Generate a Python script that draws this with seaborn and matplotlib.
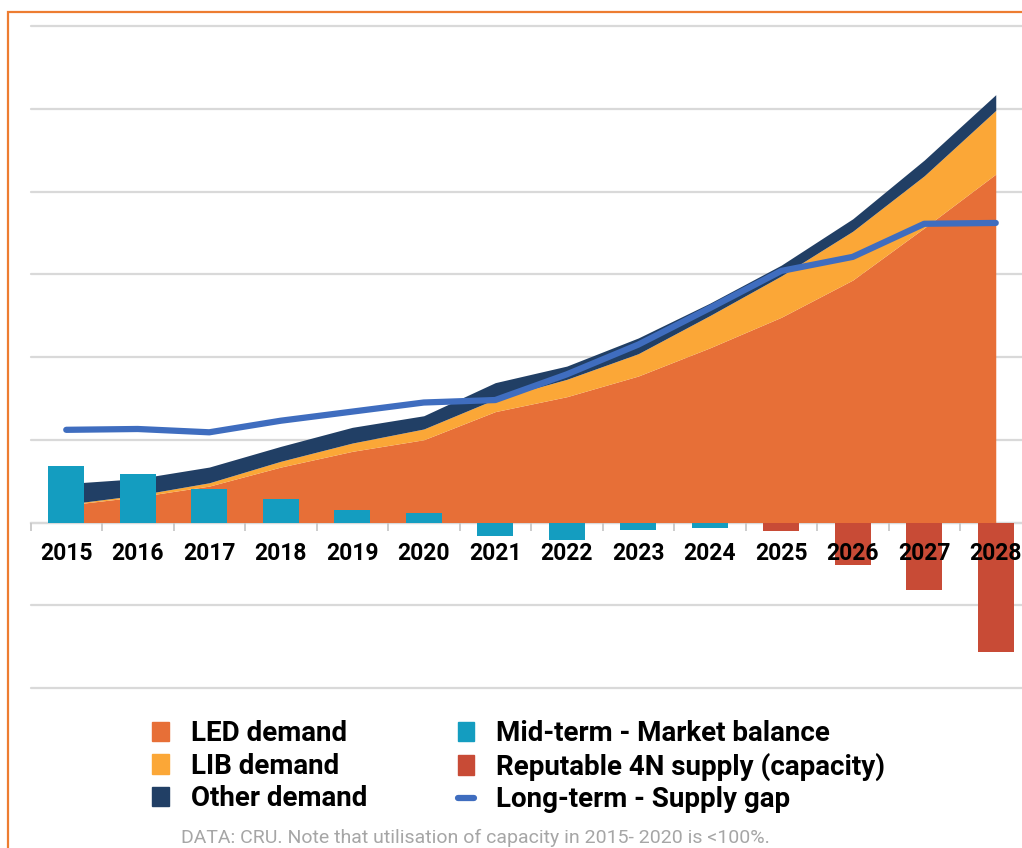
import matplotlib
matplotlib.use("Agg")
import matplotlib.pyplot as plt
from matplotlib.patches import Patch, Rectangle
from matplotlib.lines import Line2D
import numpy as np
import pandas as pd
import seaborn as sns

# values (one grid step = 1 unit)
years = ["2015", "2016", "2017", "2018", "2019", "2020", "2021",
         "2022", "2023", "2024", "2025", "2026", "2027", "2028"]
led_demand = [0.21, 0.31, 0.44, 0.67, 0.86, 1.00, 1.34,
              1.52, 1.77, 2.11, 2.48, 2.93, 3.56, 4.21]
lib_demand = [0.01, 0.02, 0.04, 0.07, 0.10, 0.13, 0.15,
              0.21, 0.27, 0.39, 0.50, 0.59, 0.63, 0.77]
other_demand = [0.25, 0.20, 0.19, 0.18, 0.19, 0.16, 0.20,
                0.16, 0.19, 0.15, 0.13, 0.15, 0.19, 0.19]
mid_term_years = ["2015", "2016", "2017", "2018", "2019",
                  "2020", "2021", "2022", "2023", "2024"]
mid_term_balance = [0.68, 0.59, 0.40, 0.29, 0.15, 0.11, -0.16, -0.21, -0.09, -0.07]
reputable_years = ["2025", "2026", "2027", "2028"]
reputable_supply = [-0.10, -0.51, -0.81, -1.56]
supply_gap = [1.12, 1.13, 1.09, 1.23, 1.34, 1.45, 1.48,
              1.79, 2.15, 2.59, 3.04, 3.21, 3.61, 3.62]

c_led = "#E76F37"
c_lib = "#FBA737"
c_other = "#213F65"
c_mid = "#149DC0"
c_rep = "#C84B36"
c_gap = "#3F6DBF"
c_grid = "#D9D9D9"

sns.set_theme(style="white")
plt.rcParams["font.family"] = ["Roboto", "DejaVu Sans"]

fig = plt.figure(figsize=(10.22, 8.48), dpi=100)
ax = fig.add_axes([30.5 / 1022, (848 - 688) / 848, 1001 / 1022, 662 / 848])
ax.set_axisbelow(False)

for v in range(-2, 7):
    ax.axhline(v, color=c_grid, lw=1.6, zorder=0, clip_on=False)

x = np.arange(len(years))
ax.stackplot(x, led_demand, lib_demand, other_demand,
             colors=[c_led, c_lib, c_other], lw=0, zorder=1)

bars = pd.DataFrame({
    "year": mid_term_years + reputable_years,
    "value": mid_term_balance + reputable_supply,
    "series": ["Mid-term - Market balance"] * len(mid_term_years)
              + ["Reputable 4N supply (capacity)"] * len(reputable_years),
})
sns.barplot(data=bars, x="year", y="value", hue="series", order=years,
            palette={"Mid-term - Market balance": c_mid,
                     "Reputable 4N supply (capacity)": c_rep},
            dodge=False, width=0.5, saturation=1, legend=False,
            edgecolor="none", linewidth=0, zorder=1.5, ax=ax)

sns.lineplot(x=x, y=supply_gap, color=c_gap, lw=4.5,
             solid_capstyle="round", zorder=2, ax=ax)

ax.set_xlim(-0.5, 13.5)
ax.set_ylim(-2, 6)
ax.set_xlabel("")
ax.set_ylabel("")
ax.set_yticks([])

for s in ["top", "left", "right"]:
    ax.spines[s].set_visible(False)
ax.spines["bottom"].set_position(("data", 0))
ax.spines["bottom"].set_color(c_grid)
ax.spines["bottom"].set_linewidth(1.6)
ax.spines["bottom"].set_zorder(0.5)

ax.set_xticks(x)
ax.set_xticklabels(years, fontsize=16.5, fontweight="bold", color="black")
ax.set_xticks(np.arange(-0.5, 14, 1), minor=True)
ax.tick_params(axis="x", which="major", length=0, pad=14)
ax.tick_params(axis="x", which="minor", length=6, width=1.3,
               color="#C8C8C8", direction="out", bottom=True)

# orange frame around the chart
fig.patches.append(Rectangle((8 / 1022, -0.2), 1.5, (848 - 12) / 848 + 0.2,
                             transform=fig.transFigure, fill=False,
                             edgecolor="#ED7D31", lw=1.6))

handles = [
    Patch(color=c_led), Patch(color=c_lib), Patch(color=c_other),
    Patch(color=c_mid), Patch(color=c_rep),
    Line2D([0], [0], color=c_gap, lw=4.5, solid_capstyle="round"),
]
labels = ["LED demand", "LIB demand", "Other demand",
          "Mid-term - Market balance", "Reputable 4N supply (capacity)",
          "Long-term - Supply gap"]
leg = fig.legend(handles, labels, ncol=2, loc="upper left",
                 bbox_to_anchor=(152 / 1022, (848 - 720) / 848),
                 frameon=False, prop={"size": 20, "weight": "bold"},
                 handlelength=0.6, handleheight=0.7, handletextpad=0.8,
                 columnspacing=3.25, labelspacing=0.2,
                 borderpad=0, borderaxespad=0)
for t in leg.get_texts():
    t.set_color("black")

fig.text(475 / 1022, 1 / 848,
         "DATA: CRU. Note that utilisation of capacity in 2015- 2020 is <100%.",
         ha="center", va="bottom", fontsize=14, color="#A6A6A6")

fig.savefig("out.png", dpi=100)
